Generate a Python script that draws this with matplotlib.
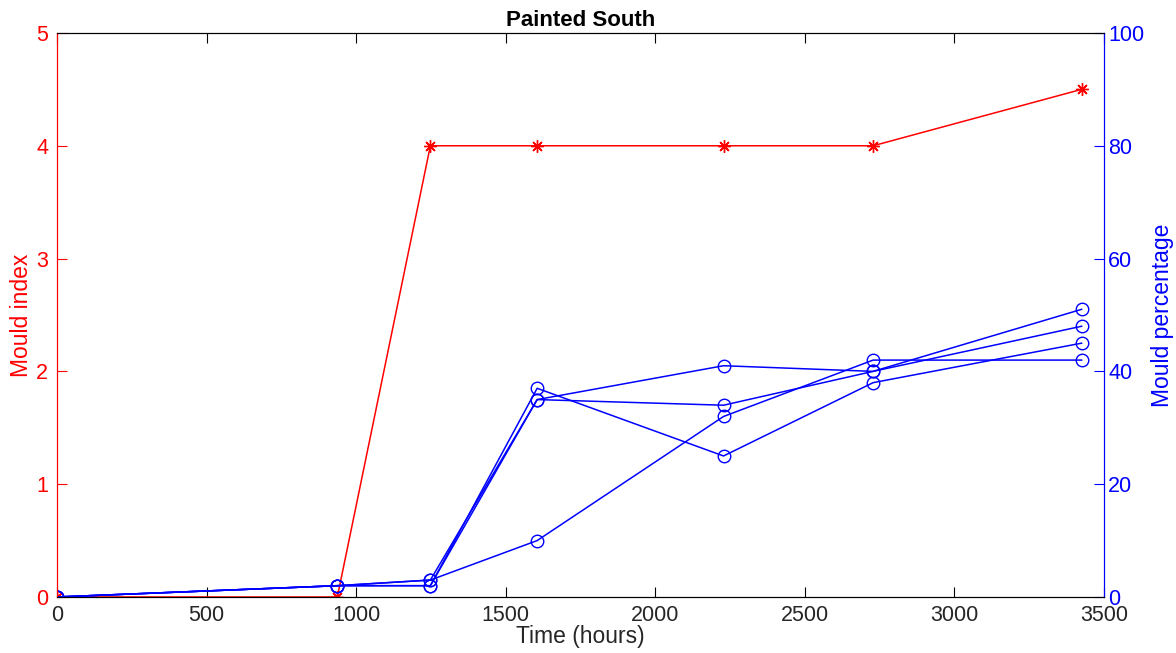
import matplotlib
matplotlib.use("Agg")
import matplotlib.pyplot as plt

plt.rcParams['font.family'] = ['Liberation Sans', 'DejaVu Sans']

time_h = [0, 937, 1248, 1605, 2228, 2728, 3425]
mould_index = [0, 0, 4, 4, 4, 4, 4.5]
pct_a = [0, 2, 2, 37, 25, 38, 45]
pct_b = [0, 2, 3, 35, 41, 40, 48]
pct_c = [0, 2, 2, 35, 34, 40, 51]
pct_d = [0, 2, 3, 10, 32, 42, 42]

GRAY = '#262626'

fig = plt.figure(figsize=(11.76, 6.53), dpi=100)
ax = fig.add_axes([0.0485, 0.0858, 0.8903, 0.8637])
ax2 = ax.twinx()

ax.plot(time_h, mould_index, color='red', marker=(8, 2, 0), markersize=9,
        markeredgewidth=1.0, linewidth=1.1)
for s in (pct_a, pct_b, pct_c, pct_d):
    ax2.plot(time_h, s, color='blue', marker='o', markersize=9, markerfacecolor='none',
             markeredgewidth=1.0, linewidth=1.1)

ax.set_xlim(0, 3500)
ax.set_ylim(0, 5)
ax2.set_ylim(0, 100)
ax.set_xticks(range(0, 3501, 500))
ax.set_yticks(range(0, 6))
ax2.set_yticks(range(0, 101, 20))

ax.set_xlabel('Time (hours)', fontsize=16.5, color=GRAY)
ax.xaxis.set_label_coords(0.5, -0.0709)
ax.xaxis.label.set_va('center')
ax.set_ylabel('Mould index', fontsize=16.5, color='red')
ax.yaxis.set_label_coords(-0.0335, 0.5)
ax.yaxis.label.set_va('center')
ax2.set_ylabel('Mould percentage', fontsize=16.5, color='blue')
ax2.yaxis.set_label_coords(1.0554, 0.5)
ax2.yaxis.label.set_va('center')
ax.set_title('Painted South', fontsize=16, fontweight='bold', pad=5)

ax.tick_params(axis='x', direction='in', top=True, labelsize=15.5, length=7, pad=6,
               labelcolor=GRAY, color='black')
ax.tick_params(axis='y', direction='in', colors='red', labelsize=15.5, length=7, pad=6.5)
ax2.tick_params(axis='y', direction='in', colors='blue', labelsize=15.5, length=7, pad=3)

ax2.spines['left'].set_color('red')
ax2.spines['right'].set_color('blue')
ax.spines['left'].set_color('red')
ax.spines['right'].set_color('blue')

fig.savefig('out.png', dpi=100)
